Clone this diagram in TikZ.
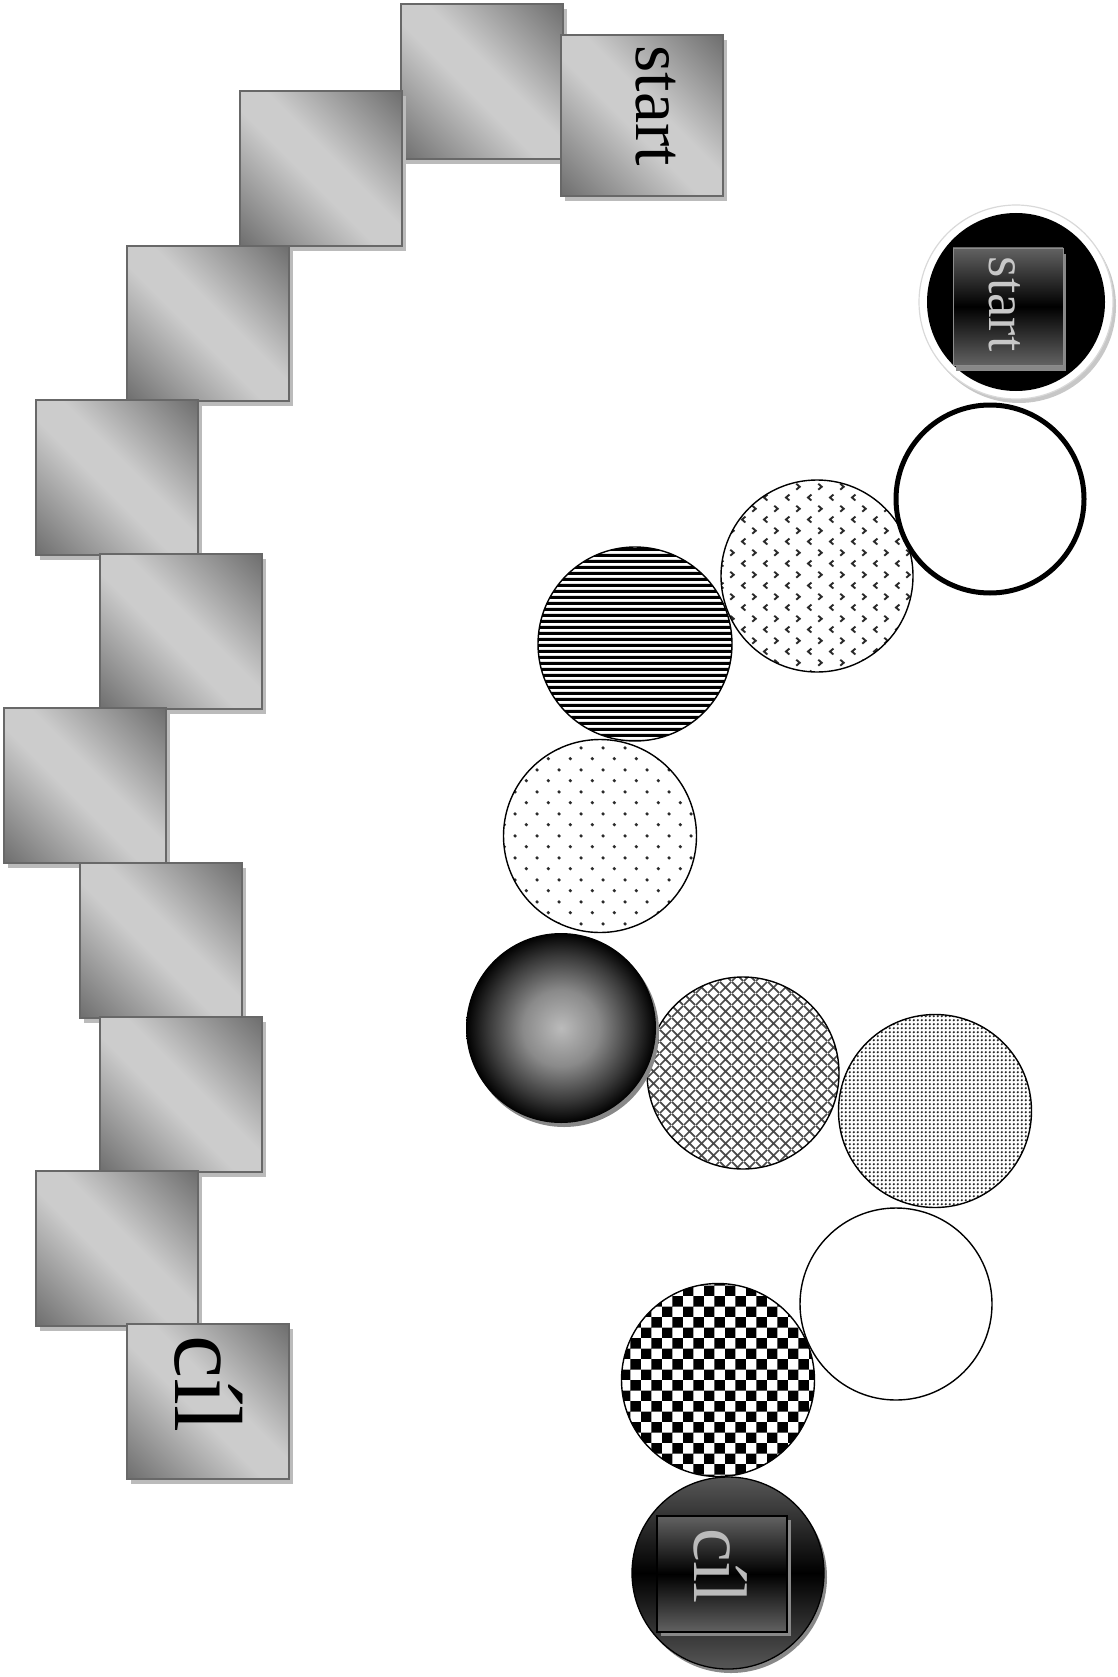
\documentclass[tikz,border=0pt]{standalone}
\usepackage{fontspec}
\setmainfont{Liberation Serif}
\usetikzlibrary{patterns,shadows}

\definecolor{sqdark}{HTML}{666666}
\definecolor{sqlight}{HTML}{CCCCCC}
\definecolor{sqline}{HTML}{686868}
\definecolor{sqshadow}{HTML}{BBBBBB}
\definecolor{balllight}{HTML}{BBBBBB}
\definecolor{ballmid}{HTML}{8A8A8A}
\definecolor{balldark}{HTML}{3A3A3A}
\definecolor{ballshadow}{HTML}{888888}
\definecolor{boxgray}{HTML}{626262}
\definecolor{circgray}{HTML}{575757}
\definecolor{patgray}{HTML}{2A2A2A}
\definecolor{txtlight}{HTML}{C8C8C8}
\definecolor{txtlight2}{HTML}{BBBBBB}

\pgfdeclareverticalshading{sqshade}{100bp}{%
  color(0bp)=(sqdark); color(12bp)=(sqdark); color(45bp)=(sqlight);
  color(55bp)=(sqlight); color(88bp)=(sqdark); color(100bp)=(sqdark)}

\pgfdeclareradialshading{myball}{\pgfpoint{0bp}{0bp}}{%
  color(0bp)=(balllight); color(10bp)=(ballmid); color(19bp)=(balldark);
  color(25bp)=(black); color(50bp)=(black)}

\pgfdeclarepatternformonly{chevrons}{\pgfqpoint{0pt}{0pt}}{\pgfqpoint{21.7pt}{21.7pt}}{\pgfqpoint{21.7pt}{21.7pt}}{%
  \pgfsetlinewidth{1.9pt}%
  \pgfpathmoveto{\pgfqpoint{7.5pt}{8.5pt}}\pgfpathlineto{\pgfqpoint{4pt}{5.5pt}}\pgfpathlineto{\pgfqpoint{7.5pt}{2.5pt}}%
  \pgfpathmoveto{\pgfqpoint{14.4pt}{19.4pt}}\pgfpathlineto{\pgfqpoint{17.9pt}{16.4pt}}\pgfpathlineto{\pgfqpoint{14.4pt}{13.4pt}}%
  \pgfusepath{stroke}}

\pgfdeclarepatternformonly{sparsedots}{\pgfqpoint{0pt}{0pt}}{\pgfqpoint{21.7pt}{21.7pt}}{\pgfqpoint{21.7pt}{21.7pt}}{%
  \pgfpathcircle{\pgfqpoint{5.4pt}{5.4pt}}{1.8pt}%
  \pgfpathcircle{\pgfqpoint{16.25pt}{16.25pt}}{1.8pt}%
  \pgfusepath{fill}}

\pgfdeclarepatternformonly{hlinesdense}{\pgfqpoint{0pt}{0pt}}{\pgfqpoint{260pt}{6.4pt}}{\pgfqpoint{260pt}{6.4pt}}{%
  \pgfpathrectangle{\pgfqpoint{-2pt}{0pt}}{\pgfqpoint{264pt}{3.3pt}}%
  \pgfusepath{fill}}

\pgfdeclarepatternformonly{diamondgrid}{\pgfqpoint{0pt}{0pt}}{\pgfqpoint{12pt}{12pt}}{\pgfqpoint{12pt}{12pt}}{%
  \pgfsetlinewidth{1.9pt}%
  \pgfpathmoveto{\pgfqpoint{0pt}{0pt}}\pgfpathlineto{\pgfqpoint{12pt}{12pt}}%
  \pgfpathmoveto{\pgfqpoint{0pt}{12pt}}\pgfpathlineto{\pgfqpoint{12pt}{0pt}}%
  \pgfusepath{stroke}}

\pgfdeclarepatternformonly{finedots}{\pgfqpoint{0pt}{0pt}}{\pgfqpoint{3.8pt}{3.8pt}}{\pgfqpoint{3.8pt}{3.8pt}}{%
  \pgfpathcircle{\pgfqpoint{1.9pt}{1.9pt}}{1.3pt}%
  \pgfusepath{fill}}

\pgfdeclarepatternformonly{bigchecker}{\pgfqpoint{0pt}{0pt}}{\pgfqpoint{21.4pt}{21.4pt}}{\pgfqpoint{21.4pt}{21.4pt}}{%
  \pgfpathrectangle{\pgfqpoint{0pt}{0pt}}{\pgfqpoint{10.7pt}{10.7pt}}%
  \pgfpathrectangle{\pgfqpoint{10.7pt}{10.7pt}}{\pgfqpoint{10.7pt}{10.7pt}}%
  \pgfusepath{fill}}

\tikzset{
  sqbox/.style={draw=sqline, line width=2pt, minimum width=162pt, minimum height=155pt,
    anchor=north west, inner sep=0pt, rectangle,
    shading=sqshade, shading angle=-45,
    drop shadow={shadow xshift=4pt, shadow yshift=-5pt, fill=sqshadow, opacity=1}},
  disc/.style={circle, inner sep=0pt, minimum size=#1},
  thin disc/.style={disc=#1, draw=black, line width=1.4pt},
  sqlabel/.style={inner sep=0pt, rotate=-90},
}

\begin{document}
\begin{tikzpicture}[x=1pt,y=-1pt]
\useasboundingbox (0,0) rectangle (1117,1677);

% ---------- chain of squares ----------
\node[sqbox] (s2)  at (400,3)    {};
\node[sqbox] (s3)  at (239,90)   {};
\node[sqbox] (s4)  at (126,245)  {};
\node[sqbox] (s5)  at (35,399)   {};
\node[sqbox] (s6)  at (99,553)   {};
\node[sqbox] (s7)  at (3,707)    {};
\node[sqbox] (s8)  at (79,862)   {};
\node[sqbox] (s9)  at (99,1016)  {};
\node[sqbox] (s10) at (35,1170)  {};
\node[sqbox] (s11) at (126,1323) {};
\node[sqbox, minimum height=161pt] (s1) at (560,34) {};
\node[sqlabel, font=\fontsize{70}{84}\selectfont] (t1) at (656,106) {start};
\node[sqlabel, font=\fontsize{97}{116}\selectfont] (t11) at (209,1384) {cíl};

% ---------- chain of circles ----------
\node[thin disc=192pt, draw=black, line width=1.3pt,
      top color=circgray, bottom color=circgray, middle color=black,
      drop shadow={shadow xshift=3pt, shadow yshift=-4pt, fill=ballshadow, opacity=1}] (c11) at (728,1573) {};
\node[rectangle, draw=black, line width=2pt, minimum width=130pt, minimum height=116pt, inner sep=0pt,
      top color=boxgray, bottom color=boxgray, middle color=black,
      drop shadow={shadow xshift=4pt, shadow yshift=-4pt, fill=ballshadow, opacity=1}] (b11) at (722,1574) {};
\node[sqlabel, text=txtlight2, font=\fontsize{76}{90}\selectfont] (tc11) at (721,1566) {cíl};

\node[thin disc=193pt, pattern=bigchecker, pattern color=black] (c10) at (718,1380) {};
\node[thin disc=192pt] (c9) at (896,1304) {};
\node[thin disc=193pt, pattern=finedots, pattern color=patgray] (c8) at (935,1111) {};
\node[thin disc=192pt, pattern=diamondgrid, pattern color=patgray!85] (c7) at (743,1073) {};
\node[disc=190pt, shading=myball,
      drop shadow={shadow xshift=3pt, shadow yshift=-4pt, fill=ballshadow, opacity=1}] (c6) at (561,1028) {};
\node[thin disc=193pt, pattern=sparsedots, pattern color=patgray] (c5) at (600,836) {};
\node[thin disc=194pt, pattern=hlinesdense, pattern color=black] (c4) at (635,644) {};
\node[thin disc=192pt, pattern=chevrons, pattern color=patgray] (c3) at (817,576) {};
\node[disc=188pt, draw=black, line width=5pt] (c2) at (990,499) {};

\node[disc=194pt, fill=white, draw=black!15, line width=1.2pt,
      drop shadow={shadow xshift=3pt, shadow yshift=-4pt, fill=black!22, opacity=1}] (c1ring) at (1016,302) {};
\node[disc=178pt, fill=black] (c1) at (1016,302) {};
\node[rectangle, draw=black!45, line width=0.8pt, minimum width=110pt, minimum height=117pt, inner sep=0pt,
      top color=boxgray, bottom color=boxgray, middle color=black,
      drop shadow={shadow xshift=3pt, shadow yshift=-6pt, fill=ballshadow, opacity=1}] (b1) at (1008,306.5) {};
\node[sqlabel, text=txtlight, font=\fontsize{55}{66}\selectfont] (tc1) at (1004.5,304) {start};
\end{tikzpicture}
\end{document}
